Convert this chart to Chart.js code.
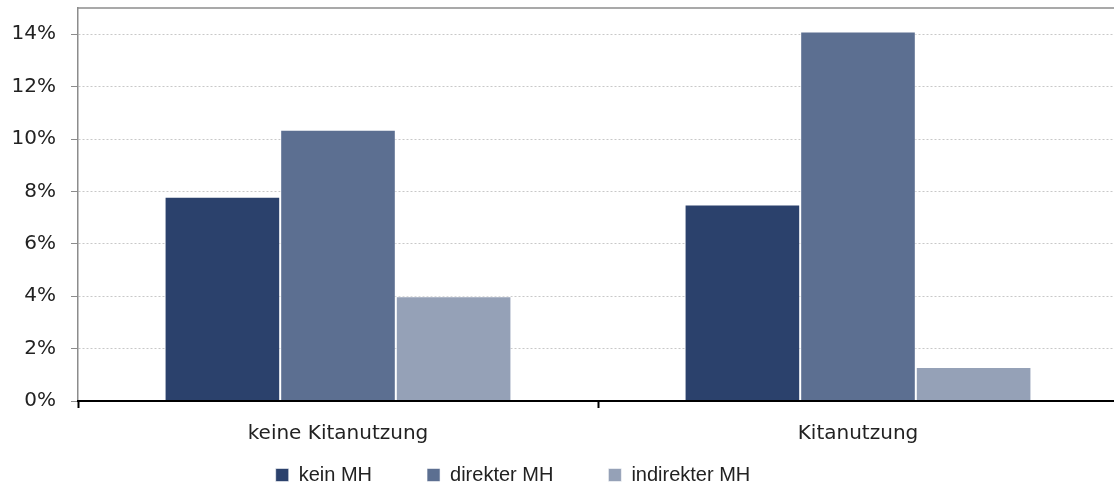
<!DOCTYPE html>
<html>
<head>
<meta charset="utf-8">
<script src="https://cdn.jsdelivr.net/npm/chart.js"></script>
<style>
  html, body { margin: 0; padding: 0; background: #fff; overflow: hidden; }
  /* Zeichenfläche läuft rechts ein paar Pixel über den Rand hinaus */
  #wrap { width: 1118px; height: 491px; }
</style>
</head>
<body>
<div id="wrap"><canvas id="chart"></canvas></div>
<script>
// Daten
const categories = ["keine Kitanutzung", "Kitanutzung"];
const seriesNames = ["kein MH", "direkter MH", "indirekter MH"];
const keinMH = [7.8, 7.5];
const direkterMH = [10.35, 14.1];
const indirekterMH = [4.0, 1.3];
const yMax = 15;
const yStep = 2;
const colors = ["#2b416c", "#5c6f91", "#95a1b7"];

// Rahmen oben + Legende verschieben
const frameAndLegend = {
  id: "frameAndLegend",
  afterLayout(chart) {
    const lg = chart.legend;
    const pad = lg.options.labels.padding;
    lg.left -= 46;
    lg.right -= 46;
    lg.top = lg.bottom - 26 - pad;
  },
  afterDraw(chart) {
    const { ctx, chartArea } = chart;
    ctx.save();
    ctx.strokeStyle = "#8c8c8c";
    ctx.lineWidth = 1.5;
    ctx.beginPath();
    ctx.moveTo(chartArea.left, chartArea.top);
    ctx.lineTo(chartArea.right, chartArea.top);
    ctx.stroke();
    ctx.restore();
  },
};

const seriesData = [keinMH, direkterMH, indirekterMH];

new Chart(document.getElementById("chart"), {
  type: "bar",
  data: {
    labels: categories,
    datasets: seriesNames.map((name, i) => ({
      label: name,
      data: seriesData[i],
      backgroundColor: colors[i],
      borderColor: "rgba(255,255,255,0.55)",
      borderWidth: 1,
      categoryPercentage: 0.667,
      barPercentage: 1,
    })),
  },
  options: {
    responsive: true,
    maintainAspectRatio: false,
    animation: false,
    layout: { padding: { top: 8, left: 0, right: 0, bottom: 0 } },
    plugins: {
      tooltip: { enabled: false },
      legend: {
        position: "bottom",
        maxHeight: 31,
        labels: {
          font: { family: "Liberation Sans", size: 20 },
          color: "#222",
          boxWidth: 13,
          boxHeight: 13,
          padding: 55,
        },
      },
    },
    scales: {
      x: {
        offset: true,
        grid: {
          offset: true,
          drawOnChartArea: false,
          tickLength: 7,
          tickColor: "#000",
          tickWidth: 2,
        },
        border: { color: "#000", width: 2, z: 1 },
        ticks: {
          font: { family: "DejaVu Sans", size: 20 },
          color: "#222",
          padding: 14,
          maxRotation: 0,
        },
        afterFit(axis) {
          axis.paddingLeft = 0;
          axis.paddingRight = 0;
        },
      },
      y: {
        min: 0,
        max: yMax,
        grid: {
          color: "#c8c8c8",
          tickColor: "#8c8c8c",
          tickLength: 7,
          tickBorderDash: [],
        },
        border: { color: "#8c8c8c", width: 1.5, dash: [2, 2] },
        ticks: {
          stepSize: yStep,
          font: { family: "DejaVu Sans", size: 20 },
          color: "#222",
          padding: 15,
          callback: (v) => v + "%",
        },
        afterBuildTicks(axis) {
          axis.ticks = axis.ticks.filter((t) => t.value % yStep === 0);
        },
        afterFit(axis) {
          axis.width = 78;
          axis.paddingTop = 0;
          axis.paddingBottom = 0;
        },
      },
    },
  },
  plugins: [frameAndLegend],
});
</script>
</body>
</html>
